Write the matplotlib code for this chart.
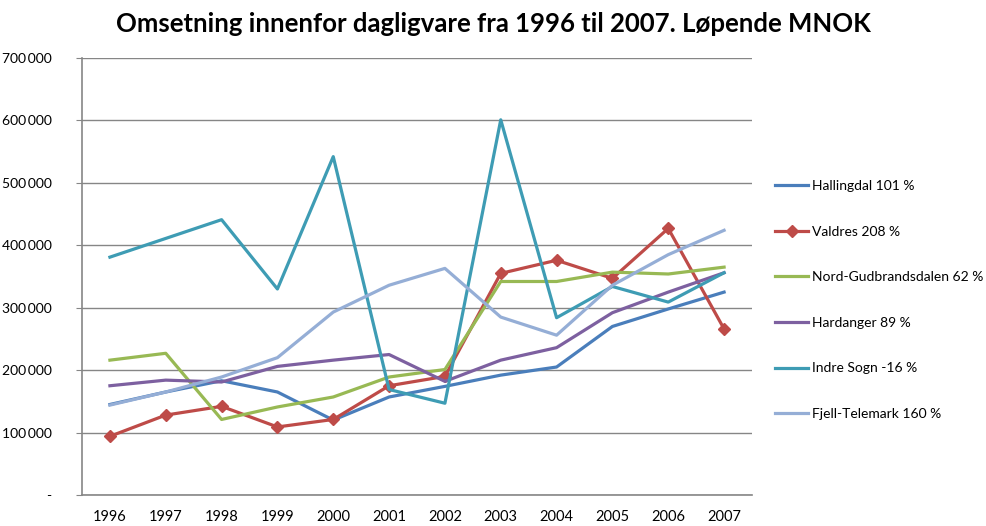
import numpy as np
import matplotlib.pyplot as plt
from matplotlib.ticker import FuncFormatter

plt.rcParams['font.family'] = ['Lato', 'DejaVu Sans']

years = [1996, 1997, 1998, 1999, 2000, 2001, 2002, 2003, 2004, 2005, 2006, 2007]

hallingdal = [145000, 165000, 183000, 165000, 120000, 157000, 174000, 192000, 205000, 270000, 298000, 325000]
valdres = [94000, 128000, 142000, 109000, 121000, 175000, 190000, 355000, 376000, 347000, 427000, 266000]
nord_gudbrandsdalen = [216000, 227000, 121000, 141000, 157000, 189000, 201000, 342000, 342000, 357000, 354000, 365000]
hardanger = [175000, 184000, 181000, 206000, 216000, 225000, 182000, 216000, 236000, 292000, 325000, 356000]
indre_sogn = [381000, 411000, 441000, 330000, 542000, 169000, 147000, 601000, 284000, 334000, 309000, 356000]
fjell_telemark = [144000, 165000, 189000, 220000, 293000, 336000, 363000, 285000, 256000, 336000, 385000, 424000]

labels = ['Hallingdal 101 %', 'Valdres 208 %', 'Nord-Gudbrandsdalen 62 %',
          'Hardanger 89 %', 'Indre Sogn -16 %', 'Fjell-Telemark 160 %']
colors = ['#4A7EBB', '#BE4B48', '#98B954', '#7D60A0', '#3E9CB4', '#95AED6']
series = [hallingdal, valdres, nord_gudbrandsdalen, hardanger, indre_sogn, fjell_telemark]

fig = plt.figure(figsize=(9.86, 5.26), dpi=100)
ax = fig.add_axes([82 / 986, 31 / 526, 670 / 986, 437 / 526])

x = np.arange(len(years))
for s, lab, c in zip(series, labels, colors):
    if lab.startswith('Valdres'):
        ax.plot(x, s, color=c, lw=2.3, marker='D', ms=6, label=lab)
    else:
        ax.plot(x, s, color=c, lw=2.3, label=lab)

ax.set_xlim(-0.5, len(years) - 0.5)
ax.set_ylim(0, 700000)
ax.set_yticks(np.arange(0, 700001, 100000))
ax.yaxis.set_major_formatter(FuncFormatter(
    lambda v, p: '-' if v == 0 else f'{int(v):,}'.replace(',', '\u2009')))
ax.set_xticks(x)
ax.set_xticklabels([str(y) for y in years])
ax.tick_params(axis='x', length=0, pad=11, labelsize=10.5)
ax.tick_params(axis='y', length=4, color='#868686', pad=18, labelsize=10)
ax.grid(axis='y', color='#868686', lw=1)
ax.set_axisbelow(True)
for sp in ['top', 'right']:
    ax.spines[sp].set_visible(False)
for sp in ['left', 'bottom']:
    ax.spines[sp].set_color('#868686')
    ax.spines[sp].set_linewidth(1.2)

fig.text(0.5, 0.955, 'Omsetning innenfor dagligvare fra 1996 til 2007. Løpende MNOK',
         ha='center', va='center', fontsize=18.5, fontweight='bold')

ax.legend(loc='upper left', bbox_to_anchor=(775 / 986, 346 / 526), bbox_transform=fig.transFigure,
          frameon=False, fontsize=10, handlelength=2.4, handletextpad=0.3,
          labelspacing=2.42, borderaxespad=0, borderpad=0)

fig.savefig('out.png', dpi=100)
